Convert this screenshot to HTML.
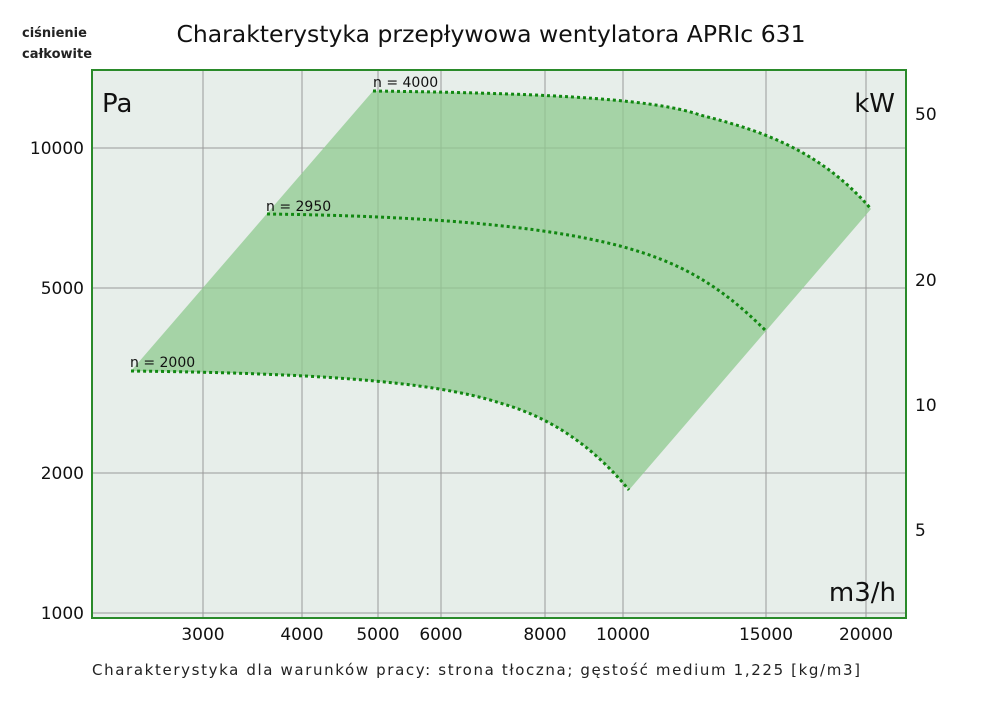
<!DOCTYPE html>
<html><head><meta charset="utf-8"><style>
body{margin:0;background:#fff;width:1000px;height:706px;overflow:hidden}
text{font-family:"DejaVu Sans","Liberation Sans",sans-serif}
</style></head><body>
<svg width="1000" height="706" viewBox="0 0 1000 706">
<text x="22" y="37" font-size="13" font-weight="bold" fill="#222">ciśnienie</text>
<text x="22" y="58" font-size="13" font-weight="bold" fill="#222">całkowite</text>
<text x="491" y="42" font-size="23.5" text-anchor="middle" fill="#111">Charakterystyka przepływowa wentylatora APRIc 631</text>
<rect x="92" y="70" width="814" height="548" fill="#e7eeea"/>
<g stroke="#9a9a9a" stroke-width="1">
<line x1="203" y1="70" x2="203" y2="618"/><line x1="302" y1="70" x2="302" y2="618"/>
<line x1="378" y1="70" x2="378" y2="618"/><line x1="441" y1="70" x2="441" y2="618"/>
<line x1="545" y1="70" x2="545" y2="618"/><line x1="623" y1="70" x2="623" y2="618"/>
<line x1="766" y1="70" x2="766" y2="618"/><line x1="866" y1="70" x2="866" y2="618"/>
<line x1="92" y1="148" x2="906" y2="148"/><line x1="92" y1="288" x2="906" y2="288"/>
<line x1="92" y1="473" x2="906" y2="473"/><line x1="92" y1="613" x2="906" y2="613"/>
</g>
<path d="M131,371 L373,91 C520,93 650,97 700,115 C760,130 820,150 871,209 L629,490 C600,455 560,420 500,403 C430,380 300,373 131,371 Z" fill="#8fc98f" fill-opacity="0.75"/>
<g fill="none" stroke="#118811" stroke-width="3" stroke-dasharray="3,3">
<path d="M373,91 C520,93 650,97 700,115 C760,130 820,150 871,209"/>
<path d="M267,214 C420,216 540,225 620,246 C680,262 720,285 766,331"/>
<path d="M131,371 C300,373 430,380 500,403 C560,420 600,455 629,490"/>
</g>
<rect x="92" y="70" width="814" height="548" fill="none" stroke="#2a8a2a" stroke-width="2"/>
<g font-size="14" fill="#111">
<text x="373" y="87">n = 4000</text>
<text x="266" y="211">n = 2950</text>
<text x="130" y="367">n = 2000</text>
</g>
<text x="102" y="112" font-size="26" fill="#111">Pa</text>
<text x="895" y="112" font-size="26" fill="#111" text-anchor="end">kW</text>
<text x="896" y="601" font-size="26" fill="#111" text-anchor="end">m3/h</text>
<g font-size="17" fill="#111" text-anchor="end">
<text x="84" y="154">10000</text><text x="84" y="294">5000</text>
<text x="84" y="479">2000</text><text x="84" y="619">1000</text>
</g>
<g font-size="17" fill="#111">
<text x="915" y="120">50</text><text x="915" y="286">20</text>
<text x="915" y="411">10</text><text x="915" y="536">5</text>
</g>
<g font-size="17" fill="#111" text-anchor="middle">
<text x="203" y="640">3000</text><text x="302" y="640">4000</text><text x="378" y="640">5000</text>
<text x="441" y="640">6000</text><text x="545" y="640">8000</text><text x="623" y="640">10000</text>
<text x="766" y="640">15000</text><text x="866" y="640">20000</text>
</g>
<text x="92" y="675" font-size="15" fill="#222" textLength="768" lengthAdjust="spacing">Charakterystyka dla warunków pracy: strona tłoczna; gęstość medium 1,225 [kg/m3]</text>
</svg>
</body></html>
